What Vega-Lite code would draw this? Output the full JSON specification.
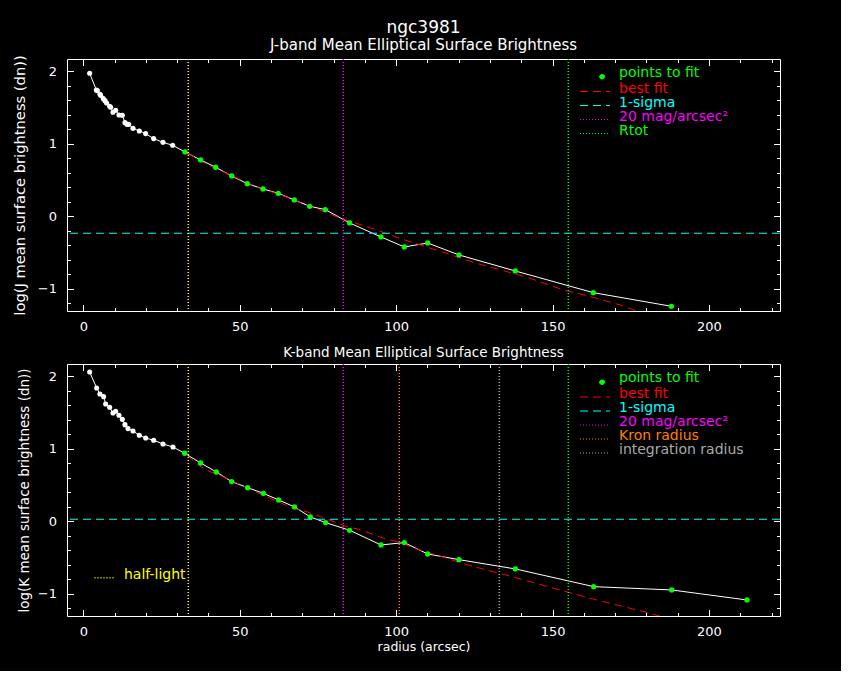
{
  "$schema": "https://vega.github.io/schema/vega-lite/v6.json",
  "background": "black",
  "padding": {"left": 11, "top": 18, "right": 60, "bottom": 17},
  "datasets": {
    "profile": [
      {"band": "J", "r": 2.04, "sb": 1.973, "kind": "profile"},
      {"band": "J", "r": 4.17, "sb": 1.743, "kind": "profile"},
      {"band": "J", "r": 4.49, "sb": 1.734, "kind": "profile"},
      {"band": "J", "r": 5.34, "sb": 1.683, "kind": "profile"},
      {"band": "J", "r": 5.55, "sb": 1.669, "kind": "profile"},
      {"band": "J", "r": 6.40, "sb": 1.623, "kind": "profile"},
      {"band": "J", "r": 6.94, "sb": 1.596, "kind": "profile"},
      {"band": "J", "r": 7.47, "sb": 1.564, "kind": "profile"},
      {"band": "J", "r": 8.43, "sb": 1.518, "kind": "profile"},
      {"band": "J", "r": 8.75, "sb": 1.504, "kind": "profile"},
      {"band": "J", "r": 9.49, "sb": 1.435, "kind": "profile"},
      {"band": "J", "r": 10.35, "sb": 1.463, "kind": "profile"},
      {"band": "J", "r": 11.41, "sb": 1.398, "kind": "profile"},
      {"band": "J", "r": 12.48, "sb": 1.394, "kind": "profile"},
      {"band": "J", "r": 13.33, "sb": 1.292, "kind": "profile"},
      {"band": "J", "r": 13.97, "sb": 1.269, "kind": "profile"},
      {"band": "J", "r": 14.50, "sb": 1.269, "kind": "profile"},
      {"band": "J", "r": 15.89, "sb": 1.214, "kind": "profile"},
      {"band": "J", "r": 17.91, "sb": 1.178, "kind": "profile"},
      {"band": "J", "r": 19.94, "sb": 1.141, "kind": "profile"},
      {"band": "J", "r": 22.49, "sb": 1.072, "kind": "profile"},
      {"band": "J", "r": 25.48, "sb": 1.021, "kind": "profile"},
      {"band": "J", "r": 28.57, "sb": 0.980, "kind": "profile"},
      {"band": "J", "r": 32.51, "sb": 0.888, "kind": "points to fit"},
      {"band": "J", "r": 37.52, "sb": 0.778, "kind": "points to fit"},
      {"band": "J", "r": 42.31, "sb": 0.677, "kind": "points to fit"},
      {"band": "J", "r": 47.43, "sb": 0.557, "kind": "points to fit"},
      {"band": "J", "r": 52.43, "sb": 0.451, "kind": "points to fit"},
      {"band": "J", "r": 57.44, "sb": 0.378, "kind": "points to fit"},
      {"band": "J", "r": 62.34, "sb": 0.318, "kind": "points to fit"},
      {"band": "J", "r": 67.45, "sb": 0.226, "kind": "points to fit"},
      {"band": "J", "r": 72.36, "sb": 0.139, "kind": "points to fit"},
      {"band": "J", "r": 77.36, "sb": 0.093, "kind": "points to fit"},
      {"band": "J", "r": 85.14, "sb": -0.091, "kind": "points to fit"},
      {"band": "J", "r": 95.16, "sb": -0.284, "kind": "points to fit"},
      {"band": "J", "r": 102.62, "sb": -0.422, "kind": "points to fit"},
      {"band": "J", "r": 110.08, "sb": -0.367, "kind": "points to fit"},
      {"band": "J", "r": 120.09, "sb": -0.532, "kind": "points to fit"},
      {"band": "J", "r": 138.10, "sb": -0.753, "kind": "points to fit"},
      {"band": "J", "r": 163.03, "sb": -1.052, "kind": "points to fit"},
      {"band": "J", "r": 187.96, "sb": -1.240, "kind": "points to fit"},
      {"band": "K", "r": 2.04, "sb": 2.060, "kind": "profile"},
      {"band": "K", "r": 4.27, "sb": 1.840, "kind": "profile"},
      {"band": "K", "r": 5.31, "sb": 1.757, "kind": "profile"},
      {"band": "K", "r": 6.51, "sb": 1.720, "kind": "profile"},
      {"band": "K", "r": 7.15, "sb": 1.619, "kind": "profile"},
      {"band": "K", "r": 8.43, "sb": 1.573, "kind": "profile"},
      {"band": "K", "r": 9.49, "sb": 1.495, "kind": "profile"},
      {"band": "K", "r": 10.35, "sb": 1.518, "kind": "profile"},
      {"band": "K", "r": 11.41, "sb": 1.463, "kind": "profile"},
      {"band": "K", "r": 12.48, "sb": 1.407, "kind": "profile"},
      {"band": "K", "r": 13.33, "sb": 1.334, "kind": "profile"},
      {"band": "K", "r": 14.29, "sb": 1.279, "kind": "profile"},
      {"band": "K", "r": 15.89, "sb": 1.247, "kind": "profile"},
      {"band": "K", "r": 17.91, "sb": 1.187, "kind": "profile"},
      {"band": "K", "r": 19.94, "sb": 1.150, "kind": "profile"},
      {"band": "K", "r": 22.49, "sb": 1.118, "kind": "profile"},
      {"band": "K", "r": 25.48, "sb": 1.067, "kind": "profile"},
      {"band": "K", "r": 28.68, "sb": 1.026, "kind": "profile"},
      {"band": "K", "r": 32.40, "sb": 0.939, "kind": "points to fit"},
      {"band": "K", "r": 37.52, "sb": 0.805, "kind": "points to fit"},
      {"band": "K", "r": 42.52, "sb": 0.681, "kind": "points to fit"},
      {"band": "K", "r": 47.43, "sb": 0.548, "kind": "points to fit"},
      {"band": "K", "r": 52.54, "sb": 0.465, "kind": "points to fit"},
      {"band": "K", "r": 57.55, "sb": 0.387, "kind": "points to fit"},
      {"band": "K", "r": 62.45, "sb": 0.295, "kind": "points to fit"},
      {"band": "K", "r": 67.53, "sb": 0.199, "kind": "points to fit"},
      {"band": "K", "r": 72.57, "sb": 0.061, "kind": "points to fit"},
      {"band": "K", "r": 77.47, "sb": -0.017, "kind": "points to fit"},
      {"band": "K", "r": 85.14, "sb": -0.123, "kind": "points to fit"},
      {"band": "K", "r": 95.16, "sb": -0.325, "kind": "points to fit"},
      {"band": "K", "r": 102.62, "sb": -0.293, "kind": "points to fit"},
      {"band": "K", "r": 110.08, "sb": -0.450, "kind": "points to fit"},
      {"band": "K", "r": 120.09, "sb": -0.528, "kind": "points to fit"},
      {"band": "K", "r": 138.10, "sb": -0.656, "kind": "points to fit"},
      {"band": "K", "r": 163.14, "sb": -0.900, "kind": "points to fit"},
      {"band": "K", "r": 188.08, "sb": -0.946, "kind": "points to fit"},
      {"band": "K", "r": 212.15, "sb": -1.084, "kind": "points to fit"}
    ],
    "bestfit": [
      {"band": "J", "r": 33.25, "sb": 0.874, "kind": "best fit"},
      {"band": "J", "r": 40.18, "sb": 0.700, "kind": "best fit"},
      {"band": "J", "r": 44.44, "sb": 0.621, "kind": "best fit"},
      {"band": "J", "r": 50.30, "sb": 0.506, "kind": "best fit"},
      {"band": "J", "r": 56.16, "sb": 0.392, "kind": "best fit"},
      {"band": "J", "r": 61.28, "sb": 0.323, "kind": "best fit"},
      {"band": "J", "r": 65.75, "sb": 0.254, "kind": "best fit"},
      {"band": "J", "r": 69.48, "sb": 0.185, "kind": "best fit"},
      {"band": "J", "r": 73.74, "sb": 0.116, "kind": "best fit"},
      {"band": "J", "r": 77.47, "sb": 0.056, "kind": "best fit"},
      {"band": "J", "r": 82.80, "sb": -0.036, "kind": "best fit"},
      {"band": "J", "r": 85.99, "sb": -0.077, "kind": "best fit"},
      {"band": "J", "r": 93.45, "sb": -0.183, "kind": "best fit"},
      {"band": "J", "r": 101.44, "sb": -0.307, "kind": "best fit"},
      {"band": "J", "r": 114.76, "sb": -0.491, "kind": "best fit"},
      {"band": "J", "r": 125.42, "sb": -0.643, "kind": "best fit"},
      {"band": "J", "r": 135.00, "sb": -0.757, "kind": "best fit"},
      {"band": "J", "r": 142.47, "sb": -0.849, "kind": "best fit"},
      {"band": "J", "r": 153.12, "sb": -1.010, "kind": "best fit"},
      {"band": "J", "r": 163.77, "sb": -1.125, "kind": "best fit"},
      {"band": "J", "r": 172.29, "sb": -1.231, "kind": "best fit"},
      {"band": "J", "r": 177.09, "sb": -1.309, "kind": "best fit"},
      {"band": "J", "r": 180.00, "sb": -1.345, "kind": "best fit"},
      {"band": "K", "r": 33.25, "sb": 0.911, "kind": "best fit"},
      {"band": "K", "r": 35.92, "sb": 0.805, "kind": "best fit"},
      {"band": "K", "r": 40.18, "sb": 0.690, "kind": "best fit"},
      {"band": "K", "r": 44.44, "sb": 0.621, "kind": "best fit"},
      {"band": "K", "r": 56.16, "sb": 0.387, "kind": "best fit"},
      {"band": "K", "r": 66.81, "sb": 0.185, "kind": "best fit"},
      {"band": "K", "r": 71.61, "sb": 0.130, "kind": "best fit"},
      {"band": "K", "r": 76.40, "sb": 0.056, "kind": "best fit"},
      {"band": "K", "r": 80.66, "sb": -0.013, "kind": "best fit"},
      {"band": "K", "r": 83.85, "sb": -0.068, "kind": "best fit"},
      {"band": "K", "r": 88.11, "sb": -0.109, "kind": "best fit"},
      {"band": "K", "r": 96.65, "sb": -0.243, "kind": "best fit"},
      {"band": "K", "r": 100.88, "sb": -0.284, "kind": "best fit"},
      {"band": "K", "r": 106.21, "sb": -0.376, "kind": "best fit"},
      {"band": "K", "r": 113.66, "sb": -0.473, "kind": "best fit"},
      {"band": "K", "r": 123.25, "sb": -0.606, "kind": "best fit"},
      {"band": "K", "r": 131.77, "sb": -0.702, "kind": "best fit"},
      {"band": "K", "r": 142.43, "sb": -0.826, "kind": "best fit"},
      {"band": "K", "r": 153.08, "sb": -0.955, "kind": "best fit"},
      {"band": "K", "r": 163.74, "sb": -1.079, "kind": "best fit"},
      {"band": "K", "r": 172.26, "sb": -1.171, "kind": "best fit"},
      {"band": "K", "r": 180.79, "sb": -1.263, "kind": "best fit"},
      {"band": "K", "r": 184.52, "sb": -1.309, "kind": "best fit"},
      {"band": "K", "r": 187.00, "sb": -1.340, "kind": "best fit"}
    ],
    "sigma": [
      {"band": "J", "sb": -0.233, "kind": "1-sigma"},
      {"band": "K", "sb": 0.029, "kind": "1-sigma"}
    ],
    "vlines": [
      {"band": "J", "r": 33.57, "kind": "half-light"},
      {"band": "J", "r": 83.12, "kind": "20 mag/arcsec²"},
      {"band": "J", "r": 155.04, "kind": "Rtot"},
      {"band": "K", "r": 33.57, "kind": "half-light"},
      {"band": "K", "r": 83.12, "kind": "20 mag/arcsec²"},
      {"band": "K", "r": 101.02, "kind": "Kron radius"},
      {"band": "K", "r": 132.98, "kind": "integration radius"},
      {"band": "K", "r": 155.04, "kind": "Rtot"}
    ]
  },
  "vconcat": [
    {
      "width": 713,
      "height": 252,
      "title": {
        "text": "ngc3981",
        "subtitle": "J-band Mean Elliptical Surface Brightness",
        "frame": "group",
        "anchor": "middle",
        "fontSize": 17,
        "subtitleFontSize": 15,
        "subtitlePadding": 1,
        "offset": 1
      },
      "layer": [
        {
          "data": {"name": "profile"},
          "transform": [{"filter": "datum.band == 'J'"}],
          "mark": {"type": "line", "color": "white", "strokeWidth": 1},
          "encoding": {
            "x": {"field": "r", "type": "quantitative",
              "scale": {"domain": [-5.2, 222.7], "nice": false, "zero": false},
              "axis": {"orient": "bottom", "values": [0, 50, 100, 150, 200], "title": null, "tickSize": -6.5, "labelPadding": 16}},
            "y": {"field": "sb", "type": "quantitative",
              "scale": {"domain": [-1.305, 2.17], "nice": false, "zero": false},
              "axis": {"orient": "left", "values": [-1, 0, 1, 2], "title": "log(J mean surface brightness (dn))", "titleFontSize": 14.7, "titlePadding": 10, "tickSize": -6.5, "labelPadding": 17}}
          }
        },
        {
          "data": {"name": "bestfit"},
          "transform": [{"filter": "datum.band == 'J'"}],
          "mark": {"type": "line", "strokeWidth": 1, "strokeDash": [8, 5], "clip": true},
          "encoding": {
            "x": {"field": "r", "type": "quantitative",
              "scale": {"domain": [-5.2, 222.7], "nice": false, "zero": false},
              "axis": {"orient": "bottom", "values": [10, 20, 30, 40, 60, 70, 80, 90, 110, 120, 130, 140, 160, 170, 180, 190, 210, 220], "labels": false, "title": null, "tickSize": -3.5}},
            "y": {"field": "sb", "type": "quantitative",
              "scale": {"domain": [-1.305, 2.17], "nice": false, "zero": false},
              "axis": {"orient": "left", "values": [-1.2, -0.8, -0.6, -0.4, -0.2, 0.2, 0.4, 0.6, 0.8, 1.2, 1.4, 1.6, 1.8], "labels": false, "title": null, "tickSize": -3.5}},
            "color": {"field": "kind", "type": "nominal",
              "scale": {"domain": ["points to fit", "best fit", "1-sigma", "20 mag/arcsec²", "Rtot"], "range": ["#00ff00", "#ff0000", "#00ffff", "#ff00ff", "#00ff00"]}}
          }
        },
        {
          "data": {"name": "profile"},
          "transform": [{"filter": "datum.band == 'J' && datum.kind == 'profile'"}],
          "mark": {"type": "point", "shape": "circle", "filled": true, "color": "white", "size": 26, "opacity": 1},
          "encoding": {
            "x": {"field": "r", "type": "quantitative",
              "scale": {"domain": [-5.2, 222.7], "nice": false, "zero": false},
              "axis": {"orient": "top", "values": [0, 50, 100, 150, 200], "labels": false, "title": null, "tickSize": -6.5}},
            "y": {"field": "sb", "type": "quantitative",
              "scale": {"domain": [-1.305, 2.17], "nice": false, "zero": false},
              "axis": {"orient": "right", "values": [-1, 0, 1, 2], "labels": false, "title": null, "tickSize": -6.5}}
          }
        },
        {
          "data": {"name": "profile"},
          "transform": [{"filter": "datum.band == 'J' && datum.kind == 'points to fit'"}],
          "mark": {"type": "point", "shape": "circle", "filled": true, "size": 28, "opacity": 1},
          "encoding": {
            "x": {"field": "r", "type": "quantitative",
              "scale": {"domain": [-5.2, 222.7], "nice": false, "zero": false},
              "axis": {"orient": "top", "values": [10, 20, 30, 40, 60, 70, 80, 90, 110, 120, 130, 140, 160, 170, 180, 190, 210, 220], "labels": false, "title": null, "tickSize": -3.5}},
            "y": {"field": "sb", "type": "quantitative",
              "scale": {"domain": [-1.305, 2.17], "nice": false, "zero": false},
              "axis": {"orient": "right", "values": [-1.2, -0.8, -0.6, -0.4, -0.2, 0.2, 0.4, 0.6, 0.8, 1.2, 1.4, 1.6, 1.8], "labels": false, "title": null, "tickSize": -3.5}},
            "color": {"field": "kind", "type": "nominal",
              "scale": {"domain": ["points to fit", "best fit", "1-sigma", "20 mag/arcsec²", "Rtot"], "range": ["#00ff00", "#ff0000", "#00ffff", "#ff00ff", "#00ff00"]},
              "legend": {
                "orient": "none", "legendX": 521, "legendY": 6.5, "title": null,
                "labelFontSize": 14, "rowPadding": 0, "symbolOffset": 0, "labelOffset": 17, "padding": 0,
                "encoding": {
                  "labels": {
                    "fill": {"value": {"expr": "['#00ff00','#ff0000','#00ffff','#ff00ff','#00ff00'][datum.index]"}}
                  },
                  "symbols": {
                    "shape": {"value": {"expr": "datum.index == 0 ? 'M1.9,0.8A0.5,0.5,0,1,1,0.9,0.8A0.5,0.5,0,1,1,1.9,0.8Z' : 'M-3,0.6L3,0.6'"}},
                    "fill": {"value": {"expr": "datum.index == 0 ? '#00ff00' : 'transparent'"}},
                    "stroke": {"value": {"expr": "datum.index == 0 ? 'transparent' : ['#00ff00','#ff0000','#00ffff','#ff00ff','#00ff00'][datum.index]"}},
                    "strokeDash": {"value": {"expr": "datum.index < 3 ? [8,5] : [1,2]"}},
                    "strokeWidth": {"value": 1},
                    "opacity": {"value": 1},
                    "size": {"value": 100}
                  }
                }
              }}
          }
        },
        {
          "data": {"name": "sigma"},
          "transform": [{"filter": "datum.band == 'J'"}],
          "mark": {"type": "rule", "strokeWidth": 1, "strokeDash": [8, 5]},
          "encoding": {
            "y": {"field": "sb", "type": "quantitative", "axis": null},
            "color": {"field": "kind", "type": "nominal",
              "scale": {"domain": ["points to fit", "best fit", "1-sigma", "20 mag/arcsec²", "Rtot"], "range": ["#00ff00", "#ff0000", "#00ffff", "#ff00ff", "#00ff00"]}}
          }
        },
        {
          "data": {"name": "vlines"},
          "transform": [{"filter": "datum.band == 'J' && datum.kind != 'half-light'"}],
          "mark": {"type": "rule", "strokeWidth": 1.5, "strokeDash": [1, 2]},
          "encoding": {
            "x": {"field": "r", "type": "quantitative", "axis": null},
            "color": {"field": "kind", "type": "nominal",
              "scale": {"domain": ["points to fit", "best fit", "1-sigma", "20 mag/arcsec²", "Rtot"], "range": ["#00ff00", "#ff0000", "#00ffff", "#ff00ff", "#00ff00"]}}
          }
        },
        {
          "data": {"name": "vlines"},
          "transform": [{"filter": "datum.band == 'J' && datum.kind == 'half-light'"}],
          "mark": {"type": "rule", "strokeWidth": 1.5, "strokeDash": [1, 2], "color": "#ffff00"},
          "encoding": {
            "x": {"field": "r", "type": "quantitative", "axis": null}
          }
        }
      ],
      "resolve": {"axis": {"x": "independent", "y": "independent"}}
    },
    {
      "width": 713,
      "height": 252,
      "title": {
        "text": "K-band Mean Elliptical Surface Brightness",
        "frame": "group",
        "anchor": "middle",
        "fontSize": 13.5,
        "offset": 4
      },
      "layer": [
        {
          "data": {"name": "profile"},
          "transform": [{"filter": "datum.band == 'K'"}],
          "mark": {"type": "line", "color": "white", "strokeWidth": 1},
          "encoding": {
            "x": {"field": "r", "type": "quantitative",
              "scale": {"domain": [-5.2, 222.7], "nice": false, "zero": false},
              "axis": {"orient": "bottom", "values": [0, 50, 100, 150, 200], "title": "radius (arcsec)", "titleFontSize": 12.5, "titlePadding": 2, "tickSize": -6.5, "labelPadding": 16}},
            "y": {"field": "sb", "type": "quantitative",
              "scale": {"domain": [-1.305, 2.17], "nice": false, "zero": false},
              "axis": {"orient": "left", "values": [-1, 0, 1, 2], "title": "log(K mean surface brightness (dn))", "titleFontSize": 13.5, "titlePadding": 6, "tickSize": -6.5, "labelPadding": 17}}
          }
        },
        {
          "data": {"name": "bestfit"},
          "transform": [{"filter": "datum.band == 'K'"}],
          "mark": {"type": "line", "strokeWidth": 1, "strokeDash": [8, 5], "clip": true},
          "encoding": {
            "x": {"field": "r", "type": "quantitative",
              "scale": {"domain": [-5.2, 222.7], "nice": false, "zero": false},
              "axis": {"orient": "bottom", "values": [10, 20, 30, 40, 60, 70, 80, 90, 110, 120, 130, 140, 160, 170, 180, 190, 210, 220], "labels": false, "title": null, "tickSize": -3.5}},
            "y": {"field": "sb", "type": "quantitative",
              "scale": {"domain": [-1.305, 2.17], "nice": false, "zero": false},
              "axis": {"orient": "left", "values": [-1.2, -0.8, -0.6, -0.4, -0.2, 0.2, 0.4, 0.6, 0.8, 1.2, 1.4, 1.6, 1.8], "labels": false, "title": null, "tickSize": -3.5}},
            "color": {"field": "kind", "type": "nominal",
              "scale": {"domain": ["points to fit", "best fit", "1-sigma", "20 mag/arcsec²", "Kron radius", "integration radius"], "range": ["#00ff00", "#ff0000", "#00ffff", "#ff00ff", "#ff8000", "#aaaaaa"]}}
          }
        },
        {
          "data": {"name": "profile"},
          "transform": [{"filter": "datum.band == 'K' && datum.kind == 'profile'"}],
          "mark": {"type": "point", "shape": "circle", "filled": true, "color": "white", "size": 26, "opacity": 1},
          "encoding": {
            "x": {"field": "r", "type": "quantitative",
              "scale": {"domain": [-5.2, 222.7], "nice": false, "zero": false},
              "axis": {"orient": "top", "values": [0, 50, 100, 150, 200], "labels": false, "title": null, "tickSize": -6.5}},
            "y": {"field": "sb", "type": "quantitative",
              "scale": {"domain": [-1.305, 2.17], "nice": false, "zero": false},
              "axis": {"orient": "right", "values": [-1, 0, 1, 2], "labels": false, "title": null, "tickSize": -6.5}}
          }
        },
        {
          "data": {"name": "profile"},
          "transform": [{"filter": "datum.band == 'K' && datum.kind == 'points to fit'"}],
          "mark": {"type": "point", "shape": "circle", "filled": true, "size": 28, "opacity": 1},
          "encoding": {
            "x": {"field": "r", "type": "quantitative",
              "scale": {"domain": [-5.2, 222.7], "nice": false, "zero": false},
              "axis": {"orient": "top", "values": [10, 20, 30, 40, 60, 70, 80, 90, 110, 120, 130, 140, 160, 170, 180, 190, 210, 220], "labels": false, "title": null, "tickSize": -3.5}},
            "y": {"field": "sb", "type": "quantitative",
              "scale": {"domain": [-1.305, 2.17], "nice": false, "zero": false},
              "axis": {"orient": "right", "values": [-1.2, -0.8, -0.6, -0.4, -0.2, 0.2, 0.4, 0.6, 0.8, 1.2, 1.4, 1.6, 1.8], "labels": false, "title": null, "tickSize": -3.5}},
            "color": {"field": "kind", "type": "nominal",
              "scale": {"domain": ["points to fit", "best fit", "1-sigma", "20 mag/arcsec²", "Kron radius", "integration radius"], "range": ["#00ff00", "#ff0000", "#00ffff", "#ff00ff", "#ff8000", "#aaaaaa"]},
              "legend": {
                "orient": "none", "legendX": 521, "legendY": 7, "title": null,
                "labelFontSize": 14, "rowPadding": 0, "symbolOffset": 0, "labelOffset": 17, "padding": 0,
                "encoding": {
                  "labels": {
                    "fill": {"value": {"expr": "['#00ff00','#ff0000','#00ffff','#ff00ff','#ff8000','#aaaaaa'][datum.index]"}}
                  },
                  "symbols": {
                    "shape": {"value": {"expr": "datum.index == 0 ? 'M1.9,0.8A0.5,0.5,0,1,1,0.9,0.8A0.5,0.5,0,1,1,1.9,0.8Z' : 'M-3,0.6L3,0.6'"}},
                    "fill": {"value": {"expr": "datum.index == 0 ? '#00ff00' : 'transparent'"}},
                    "stroke": {"value": {"expr": "datum.index == 0 ? 'transparent' : ['#00ff00','#ff0000','#00ffff','#ff00ff','#ff8000','#aaaaaa'][datum.index]"}},
                    "strokeDash": {"value": {"expr": "datum.index < 3 ? [8,5] : [1,2]"}},
                    "strokeWidth": {"value": 1},
                    "opacity": {"value": 1},
                    "size": {"value": 100}
                  }
                }
              }}
          }
        },
        {
          "data": {"name": "sigma"},
          "transform": [{"filter": "datum.band == 'K'"}],
          "mark": {"type": "rule", "strokeWidth": 1, "strokeDash": [8, 5]},
          "encoding": {
            "y": {"field": "sb", "type": "quantitative", "axis": null},
            "color": {"field": "kind", "type": "nominal",
              "scale": {"domain": ["points to fit", "best fit", "1-sigma", "20 mag/arcsec²", "Kron radius", "integration radius"], "range": ["#00ff00", "#ff0000", "#00ffff", "#ff00ff", "#ff8000", "#aaaaaa"]}}
          }
        },
        {
          "data": {"name": "vlines"},
          "transform": [{"filter": "datum.band == 'K' && datum.kind != 'half-light' && datum.kind != 'Rtot'"}],
          "mark": {"type": "rule", "strokeWidth": 1.5, "strokeDash": [1, 2]},
          "encoding": {
            "x": {"field": "r", "type": "quantitative", "axis": null},
            "color": {"field": "kind", "type": "nominal",
              "scale": {"domain": ["points to fit", "best fit", "1-sigma", "20 mag/arcsec²", "Kron radius", "integration radius"], "range": ["#00ff00", "#ff0000", "#00ffff", "#ff00ff", "#ff8000", "#aaaaaa"]}}
          }
        },
        {
          "data": {"name": "vlines"},
          "transform": [{"filter": "datum.band == 'K' && datum.kind == 'Rtot'"}],
          "mark": {"type": "rule", "strokeWidth": 1.5, "strokeDash": [1, 2], "color": "#00ff00"},
          "encoding": {
            "x": {"field": "r", "type": "quantitative", "axis": null}
          }
        },
        {
          "data": {"name": "vlines"},
          "transform": [{"filter": "datum.band == 'K' && datum.kind == 'half-light'"}],
          "mark": {"type": "rule", "strokeWidth": 1.5, "strokeDash": [1, 2]},
          "encoding": {
            "x": {"field": "r", "type": "quantitative", "axis": null},
            "stroke": {"field": "kind", "type": "nominal",
              "scale": {"domain": ["half-light"], "range": ["#ffff00"]},
              "legend": {
                "orient": "none", "legendX": 31, "legendY": 203.7, "title": null,
                "labelFontSize": 14, "labelColor": "#ffff00", "symbolOffset": 0, "labelOffset": 12, "padding": 0,
                "encoding": {
                  "symbols": {
                    "shape": {"value": "M-2.1,0.6L2.1,0.6"},
                    "fill": {"value": "transparent"},
                    "stroke": {"value": "#ffff00"},
                    "strokeDash": {"value": [1, 2]},
                    "strokeWidth": {"value": 1.5},
                    "opacity": {"value": 1},
                    "size": {"value": 100}
                  }
                }
              }}
          }
        }
      ],
      "resolve": {"axis": {"x": "independent", "y": "independent"}}
    }
  ],
  "spacing": 53,
  "bounds": "flush",
  "resolve": {"scale": {"color": "independent", "stroke": "independent"}},
  "config": {
    "font": "DejaVu Sans",
    "view": {"stroke": "white", "strokeWidth": 1},
    "axis": {
      "domain": false, "grid": false, "ticks": true,
      "tickColor": "white", "tickWidth": 1,
      "labelColor": "white", "titleColor": "white",
      "labelFontSize": 13, "titleFontWeight": "normal",
      "minExtent": 0
    },
    "title": {"color": "white", "subtitleColor": "white", "fontWeight": "normal", "subtitleFontWeight": "normal"},
    "legend": {"padding": 0}
  }
}
